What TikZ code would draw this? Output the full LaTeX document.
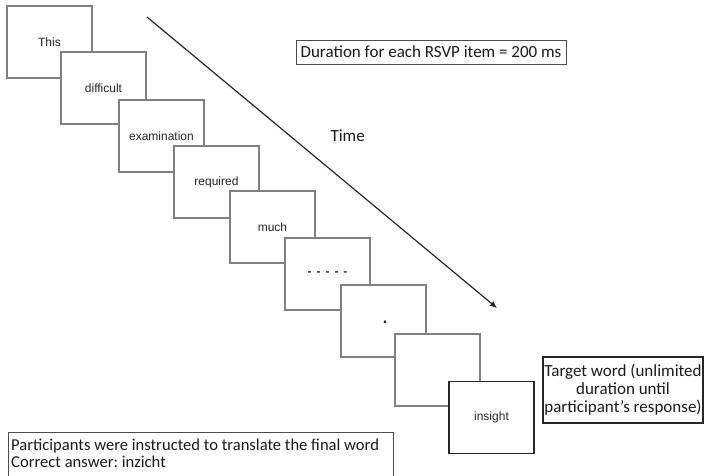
\documentclass[tikz,border=0pt]{standalone}
\usepackage{fontspec}
\setmainfont{Carlito}
\newfontfamily\wordfont{Liberation Sans}
\usetikzlibrary{arrows.meta}
\frenchspacing
\begin{document}
\begin{tikzpicture}[x=1pt,y=-1pt,
  slide/.style={draw=black!50, line width=1.1pt, fill=white,
    minimum width=85pt, minimum height=72pt, inner sep=0pt,
    font=\wordfont\fontsize{12}{14}\selectfont, text=black!85},
  finalslide/.style={slide, draw=black!85, line width=1.8pt},
  note/.style={font=\fontsize{17}{18}\selectfont, text=black!90},
  notebox/.style={note, draw=black!70, line width=0.9pt},
  notetext/.style={note, font=\fontsize{16.6}{17}\selectfont, inner sep=0pt, anchor=base west},
  timeline/.style={draw=black!85, line width=1.2pt, -{Latex[length=7pt,width=6pt]}}
]
\useasboundingbox (0,0) rectangle (705,475);
\clip (0,0) rectangle (705,475);

% RSVP sequence, each slide laid over the previous one
\node[slide] (w1) at (49.5,42)  {This};
\node[slide] (w2) at (103.5,88) {difficult};
\node[slide] (w3) at (161.5,136) {examination};
\node[slide] (w4) at (216.5,182) {required};
\node[slide] (w5) at (272.5,227) {much};
\node[slide] (w6) at (327.5,274) {\textbf{-}\hspace{5pt}\textbf{-}\hspace{5pt}\textbf{-}\hspace{5pt}\textbf{-}\hspace{5pt}\textbf{-}};
\node[slide] (w7) at (383.5,321) {\hspace{3pt}\raisebox{-4pt}{\fontsize{16}{16}\selectfont\textbf{.}}};
\node[slide] (w8) at (437.5,370) {};
\node[finalslide] (w9) at (491.5,417.5) {insight};

% time axis
\coordinate (t0) at (147,17);
\coordinate (t1) at (497,308);
\draw[timeline] (t0) -- (t1);
\node[note, anchor=west] (time) at (327,136) {Time};

% annotations
\node[notebox, minimum width=270pt, minimum height=24pt, inner sep=2pt] (dur) at (431,52)
  {Duration for each RSVP item = 200 ms};
\node[notebox, draw=black!85, line width=1.8pt, minimum width=160pt, minimum height=66pt,
  inner sep=1pt, align=center] (target) at (623,390)
  {Target word (unlimited\\duration until\\participant’s response)};

% instruction box, running past the lower edge
\draw[draw=black!70, line width=0.9pt] (8,482) -- (8,432) -- (393,432) -- (393,482);
\node[notetext] (instr1) at (11,450) {Participants were instructed to translate the final word};
\node[notetext] (instr2) at (11,467) {Correct answer: inzicht};
\end{tikzpicture}
\end{document}
